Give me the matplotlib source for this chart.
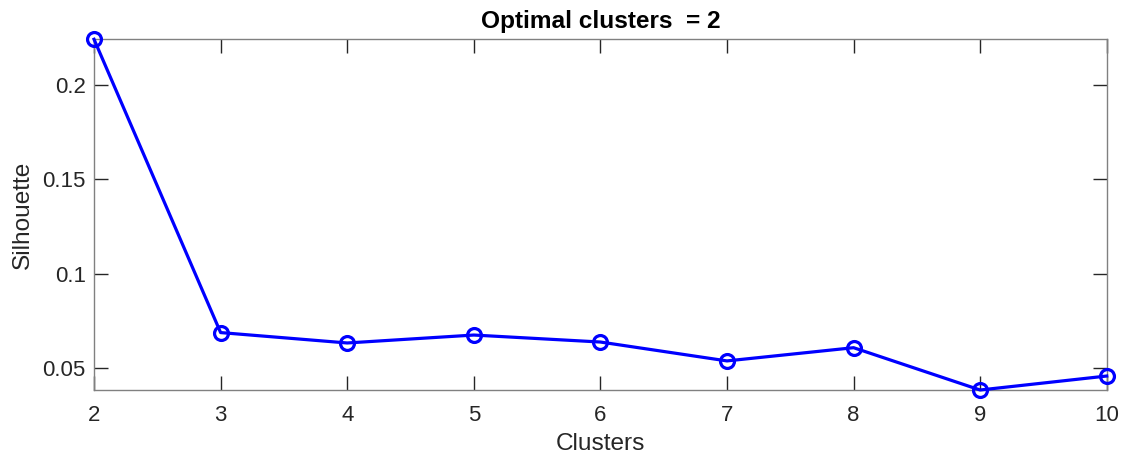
import matplotlib
matplotlib.use("Agg")
import matplotlib.pyplot as plt

# silhouette score per number of clusters
clusters = [2, 3, 4, 5, 6, 7, 8, 9, 10]
silhouette = [0.2242, 0.0689, 0.0634, 0.0676, 0.0639, 0.0539, 0.0609, 0.0385, 0.0459]
best_k = 2

plt.rcParams["font.family"] = ["Liberation Sans", "DejaVu Sans"]
AX_COLOR = "#262626"

fig = plt.figure(figsize=(11.26, 4.65), dpi=100)
ax = fig.add_axes([0.0835, 0.1613, 0.8994, 0.7542])

ax.plot(clusters, silhouette, color="#0000ff", lw=2.3, marker="o",
        markersize=10, markerfacecolor="none", markeredgewidth=2.3,
        clip_on=False, zorder=3)

ax.set_xlim(min(clusters), max(clusters))
ax.set_ylim(min(silhouette), max(silhouette))
ax.set_xticks(clusters)
ax.set_yticks([0.05, 0.1, 0.15, 0.2])
ax.set_yticklabels(["0.05", "0.1", "0.15", "0.2"])

ax.tick_params(direction="in", length=10, width=1, colors=AX_COLOR,
               labelsize=16, top=True, right=True)
ax.tick_params(axis="x", pad=11)
ax.tick_params(axis="y", pad=6)
for side in ax.spines.values():
    side.set_color("#808080")
    side.set_linewidth(1)

ax.set_xlabel("Clusters", fontsize=17.6, color=AX_COLOR, labelpad=5)
ax.set_ylabel("Silhouette", fontsize=17.6, color=AX_COLOR, labelpad=6)
ax.set_title(f"Optimal clusters  = {best_k}", fontsize=17.6, fontweight="bold",
             color="black", pad=8)

fig.savefig("out.png", dpi=100)
